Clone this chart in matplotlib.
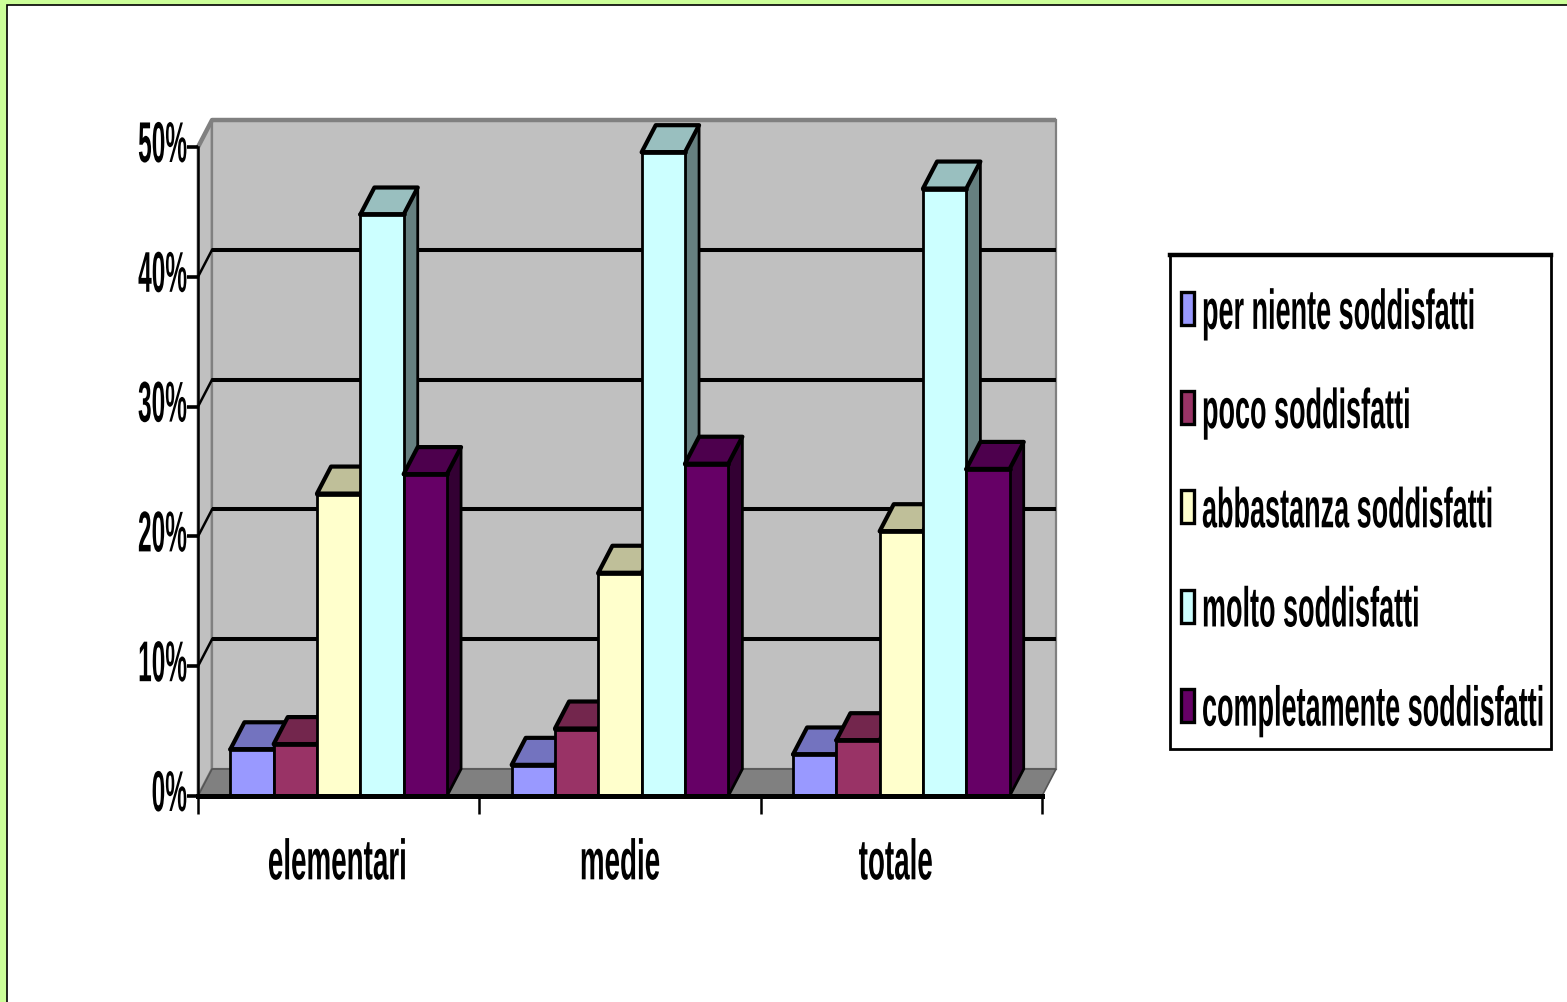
import matplotlib
matplotlib.use("Agg")
import matplotlib.pyplot as plt
import matplotlib.patheffects as pe
from matplotlib.colors import to_rgb
from matplotlib.patches import Patch, Polygon, Rectangle
from matplotlib.transforms import Affine2D, ScaledTranslation

categories = ["elementari", "medie", "totale"]
series_names = ["per niente soddisfatti", "poco soddisfatti", "abbastanza soddisfatti",
                "molto soddisfatti", "completamente soddisfatti"]
per_niente = [3.6, 2.4, 3.2]
poco = [4.0, 5.2, 4.3]
abbastanza = [23.3, 17.2, 20.4]
molto = [44.8, 49.6, 46.8]
completamente = [24.8, 25.6, 25.2]
series_colors = ["#9999FF", "#993366", "#FFFFCC", "#CCFFFF", "#660066"]
y_ticks = [0, 10, 20, 30, 40, 50]
y_labels = ["0%", "10%", "20%", "30%", "40%", "50%"]

W, H = 1567, 1003
DEPTH_X = 0.05   # profondeur 3D, en unites de categorie
DEPTH_Y = 2.08   # profondeur 3D, en points de %
BAR_W = 0.154
FONT = ["Liberation Sans Narrow", "Liberation Sans"]


class Stretch(pe.AbstractPathEffect):
    """Etire le texte en hauteur, comme dans le graphique d'origine."""

    def __init__(self, k, dy=0):
        super().__init__()
        self.k = k
        self.dy = dy

    def draw_path(self, renderer, gc, tpath, affine, rgbFace=None):
        tr = Affine2D().scale(1, self.k) + affine + Affine2D().translate(0, self.dy)
        renderer.draw_path(gc, tpath, tr, rgbFace)


def shade(color, k):
    return tuple(c * k for c in to_rgb(color))


def fig_xy(x, y):
    return x / W, 1 - y / H


fig = plt.figure(figsize=(W / 100, H / 100), dpi=100, facecolor="#CCFF99")

# fond blanc de la diapositive
fig.add_artist(Rectangle(fig_xy(7, H + 20), (W + 20) / W, (H + 14) / H, transform=fig.transFigure,
                         facecolor="white", edgecolor="black", linewidth=1.2, zorder=-10))

ax = fig.add_axes([198 / W, 1 - 797 / H, 844 / W, 649 / H])
ax.set_xlim(0, 3)
ax.set_ylim(0, 50)
ax.patch.set_visible(False)

# parois et sol
wall_grey = "#C0C0C0"
edge_grey = "#808080"
ax.add_patch(Polygon([(0, 0), (DEPTH_X, DEPTH_Y), (DEPTH_X, 50 + DEPTH_Y), (0, 50)], closed=True,
                     facecolor=wall_grey, edgecolor=edge_grey, linewidth=2, clip_on=False, zorder=1))
ax.add_patch(Polygon([(DEPTH_X, DEPTH_Y), (3 + DEPTH_X, DEPTH_Y), (3 + DEPTH_X, 50 + DEPTH_Y), (DEPTH_X, 50 + DEPTH_Y)],
                     closed=True, facecolor=wall_grey, edgecolor=edge_grey, linewidth=1.6, clip_on=False, zorder=1))
ax.plot([0, DEPTH_X, 3 + DEPTH_X], [50, 50 + DEPTH_Y, 50 + DEPTH_Y], color=edge_grey, linewidth=3.2,
        clip_on=False, zorder=1.1, solid_capstyle="butt")
ax.add_patch(Polygon([(0, 0), (DEPTH_X, DEPTH_Y), (3 + DEPTH_X, DEPTH_Y), (3, 0)], closed=True,
                     facecolor=edge_grey, edgecolor="#555555", linewidth=1.2, clip_on=False, zorder=1.2))
for v in y_ticks[1:-1]:
    ax.plot([DEPTH_X, 3 + DEPTH_X], [v + DEPTH_Y, v + DEPTH_Y], color="black", linewidth=2.9,
            clip_on=False, zorder=1.5, solid_capstyle="butt")
    ax.plot([0, DEPTH_X], [v, v + DEPTH_Y], color="black", linewidth=1.8, clip_on=False, zorder=1.5)

# barres
all_series = [per_niente, poco, abbastanza, molto, completamente]
z = 3
for c in range(len(categories)):
    x0 = c + 0.5 - 2.5 * BAR_W
    for s, values in enumerate(all_series):
        left = x0 + s * BAR_W
        v = values[c]
        col = series_colors[s]
        ax.add_patch(Polygon([(left + BAR_W, 0), (left + BAR_W + DEPTH_X, DEPTH_Y),
                              (left + BAR_W + DEPTH_X, v + DEPTH_Y), (left + BAR_W, v)], closed=True,
                             facecolor=shade(col, 0.5), edgecolor="black", linewidth=2,
                             clip_on=False, zorder=z, joinstyle="round"))
        ax.add_patch(Polygon([(left, v), (left + DEPTH_X, v + DEPTH_Y),
                              (left + BAR_W + DEPTH_X, v + DEPTH_Y), (left + BAR_W, v)], closed=True,
                             facecolor=shade(col, 0.75), edgecolor="black", linewidth=3,
                             clip_on=False, zorder=z, joinstyle="round"))
        ax.bar(left, v, BAR_W, align="edge", color=col, edgecolor="black", linewidth=2, zorder=z)
        ax.plot([left, left + BAR_W], [v, v], color="black", linewidth=3.4, zorder=z,
                solid_capstyle="round")
        z += 0.01

# axes
for side in ["top", "right"]:
    ax.spines[side].set_visible(False)
ax.spines["left"].set_linewidth(1.8)
ax.spines["bottom"].set_linewidth(3.6)
ax.spines["left"].set_zorder(10)
ax.spines["bottom"].set_zorder(10)

ax.set_xticks(range(len(categories) + 1))
ax.set_xticklabels([])
ax.set_xticks([0.495, 1.5, 2.48], minor=True)
ax.set_xticklabels(categories, minor=True, family=FONT, fontweight="bold", fontsize=20)
ax.tick_params(axis="x", which="major", length=13, width=1.8)
ax.tick_params(axis="x", which="minor", length=0, pad=60)
for label in ax.get_xticklabels(minor=True):
    label.set_verticalalignment("baseline")
    label.set_path_effects([Stretch(2.05)])

ax.set_yticks(y_ticks)
ax.set_yticklabels(y_labels, family=FONT, fontweight="bold", fontsize=17.6)
ax.tick_params(axis="y", length=8, width=2.6, pad=0)
offset = ScaledTranslation(0, -15 / 100, fig.dpi_scale_trans)
for label in ax.get_yticklabels():
    label.set_verticalalignment("baseline")
    label.set_transform(label.get_transform() + offset)
    label.set_path_effects([Stretch(2.35)])

# legende
fig.add_artist(Rectangle(fig_xy(1170, 750), 381 / W, 494 / H, transform=fig.transFigure,
                         facecolor="white", edgecolor="black", linewidth=2))
fig.add_artist(plt.Line2D([1170 / W, 1551 / W], [1 - 256 / H, 1 - 256 / H], color="black",
                          linewidth=3.2, transform=fig.transFigure))
handles = [Patch(facecolor=col, edgecolor="black", linewidth=2.4, joinstyle="round") for col in series_colors]
fs = 19.45
em = fs / 0.72
leg = fig.legend(handles, series_names, loc="upper left", bbox_to_anchor=fig_xy(1181, 293), frameon=False,
                 prop={"family": FONT, "weight": "bold", "size": fs}, borderpad=0, borderaxespad=0,
                 handlelength=13 / em, handleheight=40.5 / em, handletextpad=8 / em, labelspacing=66.25 / em)
for t in leg.get_texts():
    t.set_path_effects([Stretch(2.08, dy=-11.5)])

fig.savefig("out.png", dpi=100, facecolor=fig.get_facecolor())
